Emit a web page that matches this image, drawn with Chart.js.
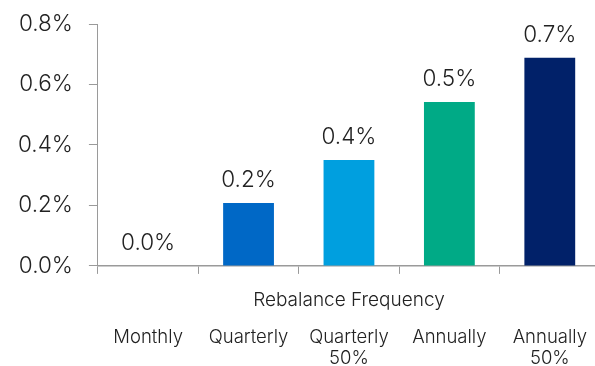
<!DOCTYPE html>
<html>
<head>
<meta charset="utf-8">
<script src="https://cdn.jsdelivr.net/npm/chart.js@4"></script>
<style>
  html, body { margin: 0; padding: 0; background: #fff; overflow: hidden; }
  canvas { display: block; }
</style>
</head>
<body>
<!-- slightly wider/taller than the window: the plot runs off the right edge -->
<canvas id="chart" width="600" height="372"></canvas>
<script>
// data (values in %)
const categories = [["Monthly"], ["Quarterly"], ["Quarterly", "50%"], ["Annually"], ["Annually", "50%"]];
const values = [0.0, 0.208, 0.350, 0.542, 0.688];
const valueLabels = ["0.0%", "0.2%", "0.4%", "0.5%", "0.7%"];
const barColors = ["#0068c6", "#0068c6", "#009fdf", "#00aa86", "#012169"];
const yMin = 0;
const yMax = 0.8;
const yStep = 0.2;
const xTitle = "Rebalance Frequency";

const FONT = "Inter, 'DejaVu Sans', sans-serif";
const WEIGHT = 300;
const TEXT = "#222222";
const AXIS = "#9a9a9a";

// value labels above each bar
const valueLabelPlugin = {
  id: "valueLabels",
  afterDatasetsDraw(chart) {
    const ctx = chart.ctx;
    const meta = chart.getDatasetMeta(0);
    ctx.save();
    ctx.font = WEIGHT + " 22.5px " + FONT;
    ctx.fillStyle = TEXT;
    ctx.textAlign = "center";
    ctx.textBaseline = "alphabetic";
    meta.data.forEach((bar, i) => {
      ctx.fillText(valueLabels[i], bar.x, bar.y - 16);
    });
    ctx.restore();
  },
};

new Chart(document.getElementById("chart"), {
  type: "bar",
  data: {
    labels: categories,
    datasets: [{
      data: values,
      backgroundColor: barColors,
      borderWidth: 0,
      categoryPercentage: 1,
      barPercentage: 0.506,
    }],
  },
  options: {
    responsive: false,
    animation: false,
    devicePixelRatio: 1,
    layout: { padding: { left: 2, top: 24, right: 0, bottom: 3.5 } },
    plugins: { legend: { display: false }, tooltip: { enabled: false } },
    scales: {
      // axis line, tick marks and the title (title sits above the category names)
      x: {
        weight: 0,
        offset: true,
        grid: { offset: true, drawOnChartArea: false, drawTicks: true, tickLength: 8, color: AXIS },
        border: { color: AXIS, width: 1.5 },
        ticks: { display: false },
        title: {
          display: true,
          text: xTitle,
          color: TEXT,
          font: { family: FONT, size: 19, weight: WEIGHT, lineHeight: 1.2 },
          padding: { top: 15, bottom: 6.8 },
        },
      },
      // category names, further from the plot
      xNames: {
        type: "category",
        position: "bottom",
        axis: "x",
        weight: 1,
        offset: true,
        grid: { display: false },
        border: { display: false },
        ticks: {
          autoSkip: false,
          maxRotation: 0,
          padding: 0,
          color: TEXT,
          font: { family: FONT, size: 18.5, weight: WEIGHT, lineHeight: 1.135 },
        },
      },
      y: {
        min: yMin,
        max: yMax,
        grid: { drawOnChartArea: false, drawTicks: true, tickLength: 9, color: AXIS },
        border: { color: AXIS, width: 1 },
        ticks: {
          stepSize: yStep,
          padding: 16,
          color: TEXT,
          font: { family: FONT, size: 22.5, weight: WEIGHT },
          callback: (v) => v.toFixed(1) + "%",
        },
        afterFit(scale) {
          scale.paddingTop = 0;
          scale.paddingBottom = 0;
        },
      },
    },
  },
  plugins: [valueLabelPlugin],
});
</script>
</body>
</html>
